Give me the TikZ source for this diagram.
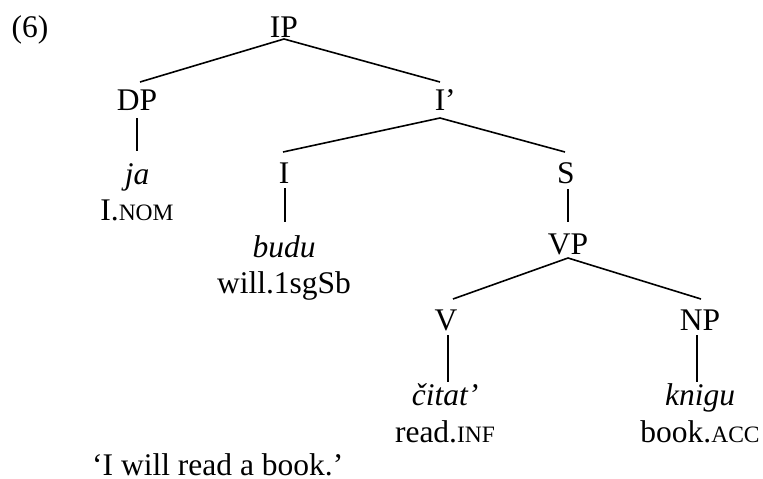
\documentclass[tikz,border=0pt]{standalone}
\usepackage{fontspec}
\setmainfont{Liberation Serif}
\newcommand\smc[1]{{\fontsize{23.5}{24}\selectfont #1}}
\tikzset{
  lbl/.style={anchor=base, inner sep=0pt, font=\fontsize{31.5}{36}\selectfont},
  br/.style={line width=1.6pt}
}
\begin{document}
\begin{tikzpicture}[x=1pt,y=-1pt]
\useasboundingbox (0,0) rectangle (763,479);
\node[lbl] (ex) at (30,37) {(6)};
\node[lbl] (IP) at (284,37) {IP};
\node[lbl] (DP) at (137,110) {DP};
\node[lbl] (Ibar) at (440,110) {I\rlap{’}};
\node[lbl] (ja) at (137,184) {\itshape ja};
\node[lbl] (janom) at (137,220) {I.\smc{NOM}};
\node[lbl] (I) at (284,183) {I};
\node[lbl] (budu) at (284,257) {\itshape budu};
\node[lbl] (will) at (284,293) {will.1sgSb};
\node[lbl] (S) at (566,183) {S};
\node[lbl] (VP) at (568,254) {VP};
\node[lbl] (V) at (446,330) {V};
\node[lbl] (NP) at (700,330) {NP};
\node[lbl] (citat) at (445,405) {\itshape čitat’};
\node[lbl] (knigu) at (700,405) {\itshape knigu};
\node[lbl] (read) at (445,442) {read.\smc{INF}};
\node[lbl] (book) at (700,442) {book.\smc{ACC}};
\node[lbl, anchor=base west] (trans) at (92,475) {‘I will read a book.’};
% branches
\draw[br] ([yshift=-2pt]IP.base) -- ([xshift=3pt,yshift=28pt]DP.base);
\draw[br] ([yshift=-2pt]IP.base) -- ([yshift=28pt]Ibar.base);
\draw[br] ([yshift=-8pt]DP.base) -- ([yshift=33pt]ja.base);
\draw[br] ([yshift=-8pt]Ibar.base) -- ([xshift=-1pt,yshift=31pt]I.base);
\draw[br] ([yshift=-8pt]Ibar.base) -- ([xshift=-1pt,yshift=31pt]S.base);
\draw[br] ([xshift=1pt,yshift=-5pt]I.base) -- ([xshift=1pt,yshift=35pt]budu.base);
\draw[br] ([xshift=2pt,yshift=-6pt]S.base) -- ([yshift=32pt]VP.base);
\draw[br] ([yshift=-4pt]VP.base) -- ([xshift=7pt,yshift=31pt]V.base);
\draw[br] ([yshift=-4pt]VP.base) -- ([xshift=1pt,yshift=31pt]NP.base);
\draw[br] ([xshift=2pt,yshift=-5pt]V.base) -- ([xshift=3pt,yshift=23pt]citat.base);
\draw[br] ([xshift=-3pt,yshift=-5pt]NP.base) -- ([xshift=-3pt,yshift=23pt]knigu.base);
\end{tikzpicture}
\end{document}
